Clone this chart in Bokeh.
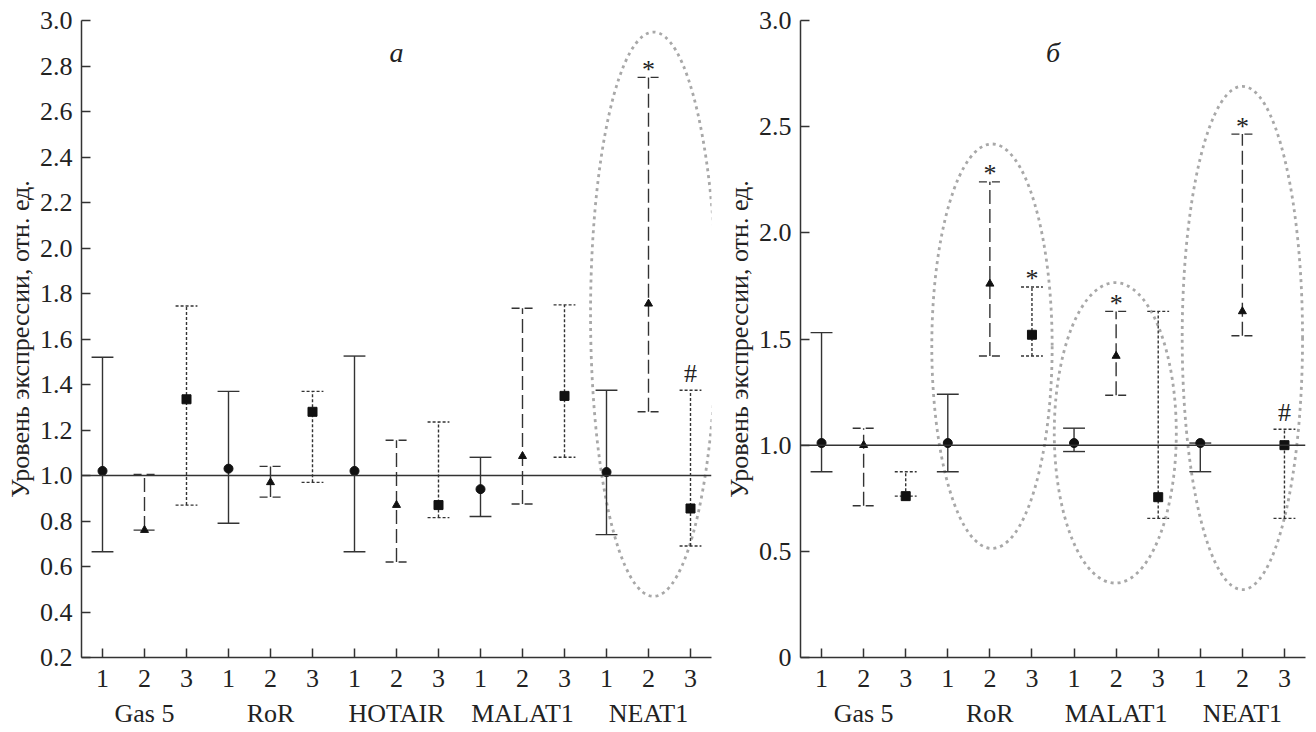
from bokeh.plotting import figure
from bokeh.models import FixedTicker, LinearAxis, Span, Label, Range1d
from bokeh.layouts import row
from bokeh.embed import file_html
from bokeh.resources import INLINE
from bokeh.core.properties import value

# ---------------- data: panel a ----------------
a_groups = ["Gas 5", "RoR", "HOTAIR", "MALAT1", "NEAT1"]
a_s1_mean = [1.02, 1.03, 1.02, 0.94, 1.015]
a_s1_low = [0.665, 0.79, 0.665, 0.82, 0.74]
a_s1_high = [1.52, 1.37, 1.525, 1.08, 1.375]
a_s2_mean = [0.76, 0.97, 0.87, 1.085, 1.755]
a_s2_low = [0.76, 0.905, 0.62, 0.875, 1.28]
a_s2_high = [1.005, 1.04, 1.155, 1.735, 2.75]
a_s3_mean = [1.335, 1.28, 0.87, 1.35, 0.855]
a_s3_low = [0.87, 0.97, 0.815, 1.08, 0.69]
a_s3_high = [1.745, 1.37, 1.235, 1.75, 1.375]
a_marks = [("*", 4, 2), ("#", 4, 3)]          # (symbol, group index, series)
a_ell_x = [14.12]
a_ell_y = [1.709]
a_ell_w = [3.0]
a_ell_h = [2.48]

# ---------------- data: panel b ----------------
b_groups = ["Gas 5", "RoR", "MALAT1", "NEAT1"]
b_s1_mean = [1.01, 1.01, 1.01, 1.01]
b_s1_low = [0.875, 0.875, 0.97, 0.875]
b_s1_high = [1.53, 1.24, 1.08, 1.01]
b_s2_mean = [1.0, 1.76, 1.42, 1.63]
b_s2_low = [0.715, 1.42, 1.235, 1.515]
b_s2_high = [1.08, 2.24, 1.63, 2.465]
b_s3_mean = [0.76, 1.52, 0.755, 1.0]
b_s3_low = [0.76, 1.42, 0.655, 0.655]
b_s3_high = [0.875, 1.745, 1.63, 1.075]
b_marks = [("*", 1, 2), ("*", 1, 3), ("*", 2, 2), ("*", 3, 2), ("#", 3, 3)]
b_ell_x = [5.05, 7.98, 11.0]
b_ell_y = [1.466, 1.058, 1.505]
b_ell_w = [2.86, 2.9, 2.86]
b_ell_h = [1.905, 1.415, 2.37]

FONT = "Liberation Serif"
INK = "#222222"
LINE = "#333333"
FS = "26px"


def make_panel(groups, series, marks, ell, y0, y1, yticks, ylabels, title,
               border_left, frame_w, border_right):
    n = len(groups) * 3
    p = figure(output_backend="svg", toolbar_location=None,
               frame_width=frame_w, frame_height=637,
               min_border_left=border_left, min_border_right=border_right,
               min_border_top=20, min_border_bottom=10,
               x_range=Range1d(0.5, n + 0.5), y_range=Range1d(y0, y1),
               x_axis_location=None, y_axis_location=None)
    p.outline_line_color = None
    p.xgrid.visible = False
    p.ygrid.visible = False
    p.background_fill_color = "white"
    p.border_fill_color = "white"

    # y axis
    yax = LinearAxis(ticker=FixedTicker(ticks=yticks),
                     major_label_overrides={t: l for t, l in zip(yticks, ylabels)},
                     axis_label="Уровень экспрессии, отн. ед.")
    yax.axis_line_color = LINE
    yax.axis_line_width = 1.5
    yax.major_tick_in = 9
    yax.major_tick_out = 0
    yax.major_tick_line_color = LINE
    yax.major_tick_line_width = 1.5
    yax.minor_tick_line_color = None
    yax.major_label_standoff = 9
    yax.major_label_text_font = FONT
    yax.major_label_text_font_size = FS
    yax.major_label_text_color = INK
    yax.axis_label_text_font = FONT
    yax.axis_label_text_font_size = FS
    yax.axis_label_text_font_style = "normal"
    yax.axis_label_text_color = INK
    yax.axis_label_standoff = 2
    p.add_layout(yax, "left")

    # x axis with series numbers
    xt = list(range(1, n + 1))
    xax = LinearAxis(ticker=FixedTicker(ticks=xt),
                     major_label_overrides={t: str((t - 1) % 3 + 1) for t in xt})
    xax.axis_line_color = LINE
    xax.axis_line_width = 1.5
    xax.major_tick_in = 9
    xax.major_tick_out = 0
    xax.major_tick_line_color = LINE
    xax.major_tick_line_width = 1.5
    xax.minor_tick_line_color = None
    xax.major_label_standoff = 12
    xax.major_label_text_font = FONT
    xax.major_label_text_font_size = FS
    xax.major_label_text_color = INK
    p.add_layout(xax, "below")

    # group names axis
    gt = [3 * i + 2 for i in range(len(groups))]
    gax = LinearAxis(ticker=FixedTicker(ticks=gt),
                     major_label_overrides={t: g for t, g in zip(gt, groups)})
    gax.axis_line_color = None
    gax.major_tick_line_color = None
    gax.minor_tick_line_color = None
    gax.major_label_standoff = 3
    gax.major_label_text_font = FONT
    gax.major_label_text_font_size = FS
    gax.major_label_text_color = INK
    p.add_layout(gax, "below")

    # reference line at 1.0
    p.add_layout(Span(location=1.0, dimension="width", line_color=LINE, line_width=1.5))

    # ellipses
    ex, ey, ew, eh = ell
    p.ellipse(x=ex, y=ey, width=ew, height=eh, fill_color=None,
              line_color="#a8a8a8", line_width=2.8, line_dash="3 4")

    styles = [("solid", "solid", "circle", 9),
              ("14 5", "8 5", "triangle", 8),
              ("3 2", "3 2", "square", 9)]
    cap = 0.26
    for s, (mean, low, high) in enumerate(series):
        xs = [3 * i + s + 1 for i in range(len(groups))]
        dash, cdash, marker, size = styles[s]
        p.segment(x0=xs, y0=low, x1=xs, y1=high, line_color=LINE,
                  line_width=1.4, line_dash=dash)
        p.segment(x0=[x - cap for x in xs], y0=low, x1=[x + cap for x in xs], y1=low,
                  line_color=LINE, line_width=1.4, line_dash=cdash)
        p.segment(x0=[x - cap for x in xs], y0=high, x1=[x + cap for x in xs], y1=high,
                  line_color=LINE, line_width=1.4, line_dash=cdash)
        p.scatter(x=xs, y=mean, marker=marker, size=size, fill_color="#111111",
                  line_color="#111111")

    # significance marks
    for sym, gi, si in marks:
        hx = 3 * gi + si
        hy = series[si - 1][2][gi]
        p.text(x=[hx], y=[hy], text=[sym], text_font=value(FONT),
               text_font_size="26px", text_color=INK, text_align="center",
               text_baseline="middle", y_offset=(-8 if sym == "*" else -17))

    p.add_layout(Label(x=(n + 1) / 2, y=title[1], text=title[0], text_font=FONT,
                       text_font_size="28px", text_font_style="italic",
                       text_color=INK, text_align="center", text_baseline="middle"))
    return p


a_ticks = [round(0.2 * i, 1) for i in range(1, 16)]
a_labels = ["%.1f" % t for t in a_ticks]
p1 = make_panel(a_groups,
                [(a_s1_mean, a_s1_low, a_s1_high),
                 (a_s2_mean, a_s2_low, a_s2_high),
                 (a_s3_mean, a_s3_low, a_s3_high)],
                a_marks, (a_ell_x, a_ell_y, a_ell_w, a_ell_h),
                0.2, 3.0, a_ticks, a_labels, ("а", 2.86), 81, 630, 10)

b_ticks = [0, 0.5, 1.0, 1.5, 2.0, 2.5, 3.0]
b_labels = ["0", "0.5", "1.0", "1.5", "2.0", "2.5", "3.0"]
p2 = make_panel(b_groups,
                [(b_s1_mean, b_s1_low, b_s1_high),
                 (b_s2_mean, b_s2_low, b_s2_high),
                 (b_s3_mean, b_s3_low, b_s3_high)],
                b_marks, (b_ell_x, b_ell_y, b_ell_w, b_ell_h),
                0.0, 3.0, b_ticks, b_labels, ("б", 2.85), 79, 505, 2)

layout = row(p1, p2)
open("out.html", "w").write(file_html(layout, INLINE))
